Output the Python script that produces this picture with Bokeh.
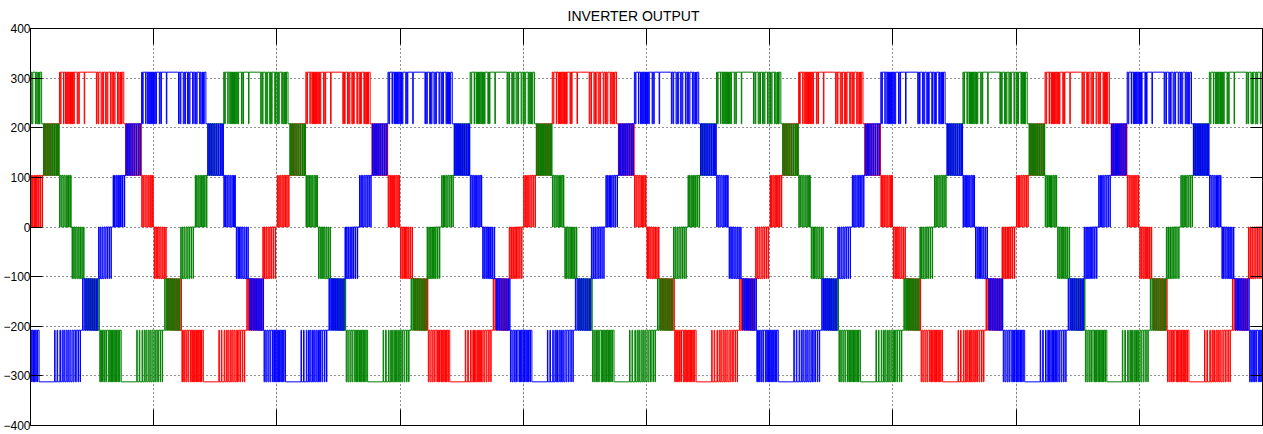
from bokeh.plotting import figure
from bokeh.models import LinearAxis, FixedTicker, Range1d, Grid
from bokeh.embed import file_html
from bokeh.resources import INLINE

# ---- data -----------------------------------------------------------------
# One 20 ms period of phase A (red): switching instants (ms) and the new level
# reached at each instant, in units of one cell step (about 104 V).
pos_half_ms = [
    0.04, 0.07, 0.15, 0.19, 0.27, 0.33, 0.41, 0.48, 0.55, 0.64, 0.70, 0.80, 0.84, 0.96, 0.98,
    1.09, 1.14, 1.22, 1.27, 1.35, 1.41, 1.48, 1.57, 1.64, 1.74, 1.79, 1.91, 1.95, 2.08, 2.11, 2.24, 2.26,
    2.35, 2.42, 2.48, 2.68, 2.71, 2.84, 2.88, 2.94, 2.97, 3.03, 3.06, 3.12, 3.15, 3.22, 3.25, 3.32,
    3.35, 3.41, 3.45, 3.51, 3.56, 3.79, 3.84, 3.92, 3.96, 4.36, 4.40, 5.35, 5.40, 5.49, 5.54, 5.73,
    5.80, 5.86, 5.92, 6.08, 6.15, 6.22, 6.28, 6.49, 6.55, 6.67, 6.73, 6.79, 6.86, 7.06, 7.11, 7.18,
    7.26, 7.30, 7.35, 7.38, 7.44, 7.57,
    7.72, 7.75, 7.85, 7.90, 8.00, 8.06, 8.15, 8.23, 8.30, 8.40, 8.46, 8.56, 8.61, 8.72, 8.76, 8.86,
    8.88, 8.97, 8.99,
    9.03, 9.07, 9.16, 9.22, 9.31, 9.38, 9.46, 9.54, 9.60, 9.68, 9.75, 9.81, 9.89, 9.93, 9.96,
]
pos_half_level = [
    1, 0, 1, 0, 1, 0, 1, 0, 1, 0, 1, 0, 1, 0, 1,
    2, 1, 2, 1, 2, 1, 2, 1, 2, 1, 2, 1, 2, 1, 2, 1, 2,
    3, 2, 3, 2, 3, 2, 3, 2, 3, 2, 3, 2, 3, 2, 3, 2,
    3, 2, 3, 2, 3, 2, 3, 2, 3, 2, 3, 2, 3, 2, 3, 2,
    3, 2, 3, 2, 3, 2, 3, 2, 3, 2, 3, 2, 3, 2, 3, 2,
    3, 2, 3, 2, 3, 2,
    1, 2, 1, 2, 1, 2, 1, 2, 1, 2, 1, 2, 1, 2, 1, 2,
    1, 2, 1,
    0, 1, 0, 1, 0, 1, 0, 1, 0, 1, 0, 1, 0, 1, 0,
]
neg_half_ms = [
    10.04, 10.08, 10.17, 10.22, 10.30, 10.36, 10.44, 10.51, 10.58, 10.67, 10.73, 10.83, 10.87, 10.98, 11.01,
    11.13, 11.16, 11.25, 11.30, 11.39, 11.45, 11.53, 11.61, 11.68, 11.78, 11.83, 11.94, 11.98, 12.10,
    12.12, 12.23, 12.25,
    12.29, 12.34, 12.43, 12.51, 12.61, 12.68, 12.78, 12.84, 12.98, 13.03, 13.10, 13.14, 13.20, 13.24,
    13.32, 13.37, 13.43, 13.47, 13.54, 13.58, 13.65, 13.69, 13.76, 13.80, 13.88, 13.92, 14.03, 15.29,
    15.33, 15.49, 15.54, 15.72, 15.77, 15.90, 15.96, 16.04, 16.11, 16.22, 16.29, 16.37, 16.44, 16.53,
    16.61, 16.71, 16.80, 16.87, 16.99, 17.05, 17.19, 17.23, 17.36, 17.39,
    17.56, 17.60, 17.70, 17.76, 17.86, 17.92, 18.02, 18.09, 18.19, 18.25, 18.36, 18.40, 18.52, 18.56,
    18.69, 18.71, 18.80,
    18.86, 18.90, 18.99, 19.04, 19.14, 19.20, 19.30, 19.38, 19.45, 19.55, 19.59, 19.71, 19.74, 19.87, 19.89,
]
neg_half_level = [
    -1, 0, -1, 0, -1, 0, -1, 0, -1, 0, -1, 0, -1, 0, -1,
    -2, -1, -2, -1, -2, -1, -2, -1, -2, -1, -2, -1, -2, -1,
    -2, -1, -2,
    -3, -2, -3, -2, -3, -2, -3, -2, -3, -2, -3, -2, -3, -2,
    -3, -2, -3, -2, -3, -2, -3, -2, -3, -2, -3, -2, -3, -2,
    -3, -2, -3, -2, -3, -2, -3, -2, -3, -2, -3, -2, -3, -2,
    -3, -2, -3, -2, -3, -2, -3, -2, -3, -2,
    -1, -2, -1, -2, -1, -2, -1, -2, -1, -2, -1, -2, -1, -2,
    -1, -2, -1,
    0, -1, 0, -1, 0, -1, 0, -1, 0, -1, 0, -1, 0, -1, 0,
]
step_volts = 104.0
period_ms = 20.0
n_periods = 5
phase_names = ["Va", "Vb", "Vc"]
phase_delay_ms = [0.0, 20.0 / 3.0, 40.0 / 3.0]
phase_colors = ["#ff0000", "#0000ff", "#008000"]
draw_order = [0, 2, 1]
y_ticks = [-400, -300, -200, -100, 0, 100, 200, 300, 400]
x_ticks = [0, 10, 20, 30, 40, 50, 60, 70, 80, 90, 100]
t_end_ms = 100.0

period_edges = pos_half_ms + neg_half_ms
period_levels = pos_half_level + neg_half_level


def phase_trace(delay):
    times, levels = [], []
    for k in range(-1, n_periods + 1):
        for t, lv in zip(period_edges, period_levels):
            times.append(t + k * period_ms + delay)
            levels.append(lv)
    prev = 0
    for t, lv in zip(times, levels):
        if t <= 0:
            prev = lv
    xs, ys = [0.0], [prev * step_volts]
    for t, lv in zip(times, levels):
        if 0 < t < t_end_ms:
            xs += [t, t]
            ys += [prev * step_volts, lv * step_volts]
            prev = lv
    xs.append(t_end_ms)
    ys.append(prev * step_volts)
    return xs, ys


p = figure(
    width=1263, height=434,
    x_range=Range1d(0, t_end_ms), y_range=Range1d(-400, 400),
    output_backend="svg", toolbar_location=None,
    x_axis_location=None, y_axis_location="left",
    min_border_left=26, min_border_right=1, min_border_top=28, min_border_bottom=9,
    background_fill_color="white", border_fill_color="white",
    outline_line_color="black", outline_line_width=1,
)

p.title.text = "INVERTER OUTPUT"
p.title.align = "left"
p.title.offset = 537
p.title.text_font = "Liberation Sans"
p.title.text_font_size = "14px"
p.title.text_font_style = "normal"
p.title.text_color = "black"
p.title.standoff = 9

yax = p.yaxis[0]
yax.ticker = FixedTicker(ticks=y_ticks)
yax.major_tick_in = 12
yax.major_tick_out = 0
yax.minor_tick_in = 0
yax.minor_tick_out = 0
yax.major_label_text_font = "Liberation Sans"
yax.major_label_text_font_size = "12px"
yax.major_label_text_color = "black"
yax.major_label_standoff = 0
yax.axis_line_color = "black"
yax.major_tick_line_color = "black"

p.ygrid.ticker = FixedTicker(ticks=y_ticks[1:-1])
p.ygrid.grid_line_color = "black"
p.ygrid.grid_line_dash = "1 3"
p.ygrid.grid_line_alpha = 0.85

p.add_layout(Grid(dimension=0, ticker=FixedTicker(ticks=x_ticks[1:-1]),
                  grid_line_color="black", grid_line_dash="1 3", grid_line_alpha=0.85))


def tick_only_axis(ticks, tick_in):
    return LinearAxis(
        ticker=FixedTicker(ticks=ticks), major_tick_in=tick_in, major_tick_out=0,
        minor_tick_in=0, minor_tick_out=0,
        major_label_text_font_size="1px", major_label_text_color=None,
        major_label_standoff=0, axis_line_color="black", major_tick_line_color="black",
    )


p.add_layout(tick_only_axis(x_ticks, 16), "below")
p.add_layout(tick_only_axis(x_ticks, 16), "above")
p.add_layout(tick_only_axis(y_ticks, 12), "right")

for i in draw_order:
    xs, ys = phase_trace(phase_delay_ms[i])
    p.line(xs, ys, line_color=phase_colors[i], line_width=1)

open("out.html", "w").write(file_html(p, INLINE))
